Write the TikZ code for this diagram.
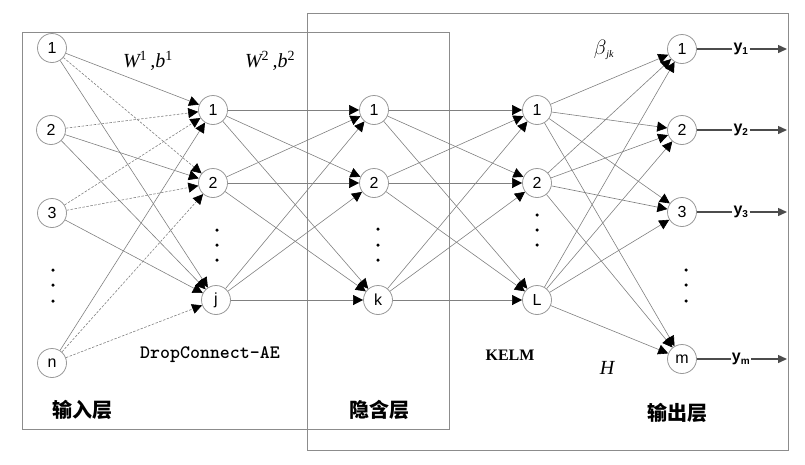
\documentclass[tikz,border=0pt]{standalone}
\usepackage{fontspec}
\newfontfamily\cjk{Noto Sans CJK SC}
\newfontfamily\arial{Liberation Sans}
\newfontfamily\timesf{Liberation Serif}
\usetikzlibrary{arrows.meta}
\begin{document}
\begin{tikzpicture}[x=1pt,y=-1pt,
  neuron/.style={circle,draw=black!40,line width=0.8pt,fill=white,minimum size=29pt,inner sep=0pt,font=\arial\fontsize{16}{16}\selectfont},
  tipblack/.tip={Triangle[length=10pt,width=10pt,color=black,fill=black]},
  edge/.style={draw=black!50,line width=0.6pt,arrows={-tipblack}},
  dedge/.style={edge,dash pattern=on 2.5pt off 1.5pt},
  outline/.style={draw=black!45,line width=0.7pt},
  dotn/.style={circle,fill=black,inner sep=0pt,minimum size=3.5pt},
  outarrow/.style={draw=black!70,line width=1.4pt},
  ylab/.style={font=\arial\bfseries\fontsize{16}{16}\selectfont,inner sep=1pt},
  cjklab/.style={font=\cjk\bfseries\fontsize{20}{20}\selectfont},
  mathlab/.style={font=\timesf\itshape\fontsize{20}{20}\selectfont,inner sep=1pt},
]
\useasboundingbox (0,0) rectangle (805,464);
% boxes
\draw[outline] (22,32) rectangle (449,429);
\draw[outline] (307,13) rectangle (788,450);
% nodes
\node[neuron] (i1) at (52,48) {1};
\node[neuron] (i2) at (51,130) {2};
\node[neuron] (i3) at (52,213) {3};
\node[neuron] (in) at (52,363) {n};
\node[neuron] (a1) at (213,110) {1};
\node[neuron] (a2) at (213,183) {2};
\node[neuron] (aj) at (216,300) {j};
\node[neuron] (b1) at (374,110) {1};
\node[neuron] (b2) at (374,183) {2};
\node[neuron] (bk) at (378,300) {k};
\node[neuron] (c1) at (537,110) {1};
\node[neuron] (c2) at (537,183) {2};
\node[neuron] (cL) at (537,300) {L};
\node[neuron] (o1) at (682,49) {1};
\node[neuron] (o2) at (682,130) {2};
\node[neuron] (o3) at (682,212) {3};
\node[neuron] (om) at (682,359) {m};
% dots
\foreach \n/\x/\y in {d1/53/270,d2/53/285,d3/53/301,
  e1/217/230,e2/217/245,e3/217/260,
  f1/378/229,f2/378/245,f3/378/260,
  g1/537/215,g2/537/230,g3/537/245,
  h1/686/270,h2/686/285,h3/686/301}
  \node[dotn] (\n) at (\x,\y) {};
% input -> first hidden
\draw[edge] (i1) -- (a1);
\draw[dedge] (i1) -- (a2);
\draw[edge] (i1) -- (aj);
\draw[dedge] (i2) -- (a1);
\draw[edge] (i2) -- (a2);
\draw[edge] (i2) -- (aj);
\draw[dedge] (i3) -- (a1);
\draw[dedge] (i3) -- (a2);
\draw[edge] (i3) -- (aj);
\draw[edge] (in) -- (a1);
\draw[dedge] (in) -- (a2);
\draw[dedge] (in) -- (aj);
% first hidden -> second hidden
\foreach \s in {a1,a2,aj}
  \foreach \t in {b1,b2,bk}
    \draw[edge] (\s) -- (\t);
% second hidden -> KELM hidden
\foreach \s in {b1,b2,bk}
  \foreach \t in {c1,c2,cL}
    \draw[edge] (\s) -- (\t);
% KELM hidden -> output
\foreach \s in {c1,c2,cL}
  \foreach \t in {o1,o2,o3,om}
    \draw[edge] (\s) -- (\t);
% outputs
\foreach \o/\lab/\yy in {o1/1/49,o2/2/130,o3/3/212,om/m/359}{
  \node[ylab] (y\o) at (741,\yy) {y\textsubscript{\fontsize{10}{10}\selectfont\lab}};
  \coordinate (t\o) at (787,\yy);
  \draw[outarrow] (\o) -- (y\o);
  \draw[outarrow,-{Triangle[length=9pt,width=8pt]}] (y\o) -- (t\o);
}
% labels
\node[mathlab] (w1) at (148,61) {W\textsuperscript{\upshape 1}\,,b\textsuperscript{\upshape 1}};
\node[mathlab] (w2) at (270,61) {W\textsuperscript{\upshape 2}\,,b\textsuperscript{\upshape 2}};
\node[mathlab] (beta) at (604,50) {$\beta$\textsubscript{\fontsize{10}{10}\selectfont jk}};
\node[mathlab] (hh) at (607,368) {H};
\node (dc) at (210,355) {\ttfamily\bfseries\fontsize{19}{19}\selectfont DropConnect-AE};
\node (kelm) at (510,355) {\timesf\bfseries\fontsize{16}{16}\selectfont KELM};
\node[cjklab] (l1) at (82,410) {输入层};
\node[cjklab] (l2) at (379,410) {隐含层};
\node[cjklab] (l3) at (677,413) {输出层};
\end{tikzpicture}
\end{document}
